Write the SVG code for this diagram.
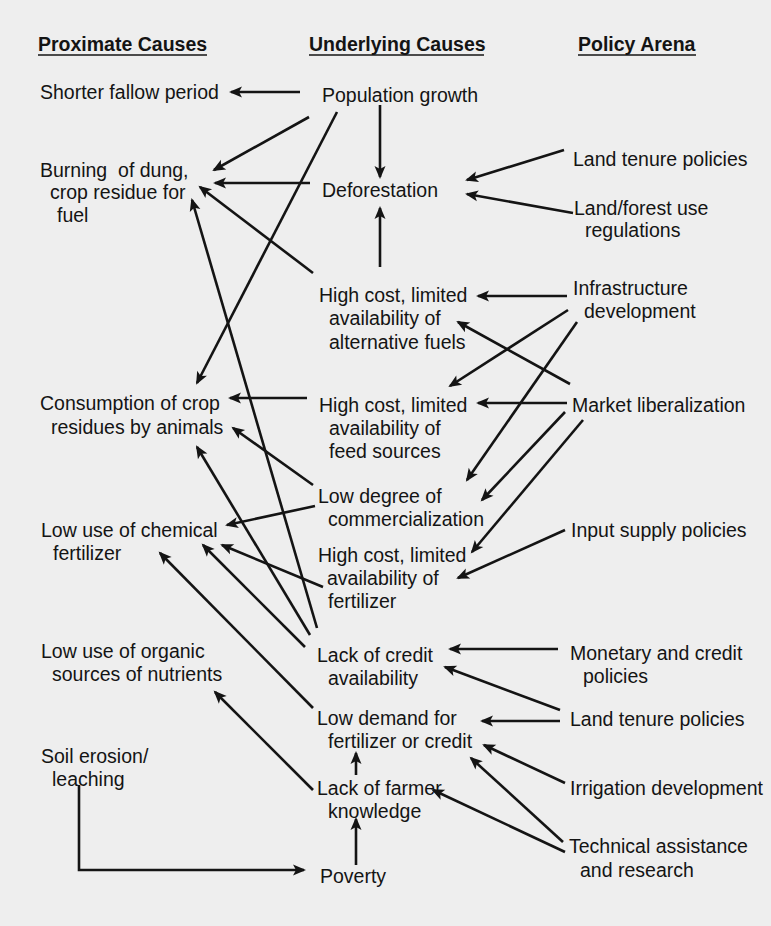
<svg xmlns="http://www.w3.org/2000/svg" width="771" height="926" viewBox="0 0 771 926">
<style>
text{font-family:"Liberation Sans",Arial,sans-serif;font-size:19.5px;fill:#141414;white-space:pre}
.h{font-weight:bold}
.ul{stroke:#141414;stroke-width:1.6}
.c line,.c polyline{stroke:#141414;stroke-width:2.6;fill:none;marker-end:url(#ah)}
</style>
<defs>
<marker id="ah" viewBox="-12 -6 15 12" refX="0" refY="0" markerWidth="15" markerHeight="12" markerUnits="userSpaceOnUse" orient="auto">
<path d="M2,0 L-11,-5.5 L-8,0 L-11,5.5 Z" fill="#141414"/>
</marker>
</defs>
<rect width="771" height="926" fill="#eeeeee"/>
<g id="headers">
<text class="h" x="38" y="51">Proximate Causes</text>
<line class="ul" x1="38" y1="55" x2="207" y2="55"/>
<text class="h" x="309" y="51">Underlying Causes</text>
<line class="ul" x1="309" y1="55" x2="484" y2="55"/>
<text class="h" x="578" y="51">Policy Arena</text>
<line class="ul" x1="578" y1="55" x2="696" y2="55"/>
</g>
<g id="p_shorter"><text x="40" y="99">Shorter fallow period</text></g>
<g id="p_burning"><text x="40" y="177" xml:space="preserve">Burning  of dung,</text><text x="50" y="199">crop residue for</text><text x="57" y="222">fuel</text></g>
<g id="p_consumption"><text x="40" y="410">Consumption of crop</text><text x="51" y="434">residues by animals</text></g>
<g id="p_chemical"><text x="41" y="537">Low use of chemical</text><text x="53" y="560">fertilizer</text></g>
<g id="p_organic"><text x="41" y="658">Low use of organic</text><text x="52" y="681">sources of nutrients</text></g>
<g id="p_erosion"><text x="41" y="763">Soil erosion/</text><text x="52" y="786">leaching</text></g>
<g id="u_population"><text x="322" y="102">Population growth</text></g>
<g id="u_deforestation"><text x="322" y="197">Deforestation</text></g>
<g id="u_altfuels"><text x="319" y="302">High cost, limited</text><text x="329" y="325">availability of</text><text x="329" y="349">alternative fuels</text></g>
<g id="u_feed"><text x="319" y="412">High cost, limited</text><text x="329" y="435">availability of</text><text x="329" y="458">feed sources</text></g>
<g id="u_commercial"><text x="318" y="503">Low degree of</text><text x="328" y="526">commercialization</text></g>
<g id="u_fertilizer"><text x="318" y="562">High cost, limited</text><text x="327" y="585">availability of</text><text x="328" y="608">fertilizer</text></g>
<g id="u_credit"><text x="317" y="662">Lack of credit</text><text x="328" y="685">availability</text></g>
<g id="u_demand"><text x="317" y="725">Low demand for</text><text x="328" y="748">fertilizer or credit</text></g>
<g id="u_knowledge"><text x="317" y="795">Lack of farmer</text><text x="328" y="818">knowledge</text></g>
<g id="u_poverty"><text x="320" y="883">Poverty</text></g>
<g id="r_landtenure1"><text x="573" y="166">Land tenure policies</text></g>
<g id="r_landforest"><text x="574" y="215">Land/forest use</text><text x="585" y="237">regulations</text></g>
<g id="r_infrastructure"><text x="573" y="295">Infrastructure</text><text x="584" y="318">development</text></g>
<g id="r_market"><text x="572" y="412">Market liberalization</text></g>
<g id="r_input"><text x="571" y="537">Input supply policies</text></g>
<g id="r_monetary"><text x="570" y="660">Monetary and credit</text><text x="583" y="683">policies</text></g>
<g id="r_landtenure2"><text x="570" y="726">Land tenure policies</text></g>
<g id="r_irrigation"><text x="570" y="795">Irrigation development</text></g>
<g id="r_technical"><text x="569" y="853">Technical assistance</text><text x="580" y="877">and research</text></g>
<g id="connectors" class="c">
<line x1="300" y1="92" x2="231" y2="92"/>
<line x1="380" y1="105" x2="380" y2="177"/>
<line x1="309" y1="117" x2="214" y2="170"/>
<line x1="337" y1="112" x2="197" y2="383"/>
<line x1="310" y1="183" x2="215" y2="183"/>
<line x1="564" y1="150" x2="467" y2="180"/>
<line x1="573" y1="213" x2="467" y2="194"/>
<line x1="313" y1="273" x2="200" y2="187"/>
<line x1="380" y1="267" x2="380" y2="208"/>
<line x1="567" y1="296" x2="478" y2="296"/>
<line x1="568" y1="310" x2="450" y2="386"/>
<line x1="577" y1="322" x2="467" y2="480"/>
<line x1="570" y1="384" x2="458" y2="322"/>
<line x1="567" y1="403" x2="478" y2="403"/>
<line x1="565" y1="412" x2="482" y2="500"/>
<line x1="583" y1="420" x2="472" y2="552"/>
<line x1="565" y1="530" x2="458" y2="578"/>
<line x1="307" y1="398" x2="230" y2="398"/>
<line x1="313" y1="485" x2="233" y2="428"/>
<line x1="315" y1="506" x2="227" y2="525"/>
<line x1="323" y1="587" x2="222" y2="545"/>
<line x1="317" y1="628" x2="192" y2="200"/>
<line x1="310" y1="635" x2="197" y2="447"/>
<line x1="305" y1="647" x2="203" y2="545"/>
<line x1="313" y1="708" x2="160" y2="553"/>
<line x1="558" y1="649" x2="450" y2="649"/>
<line x1="560" y1="710" x2="445" y2="667"/>
<line x1="560" y1="721" x2="482" y2="721"/>
<line x1="565" y1="783" x2="484" y2="745"/>
<line x1="563" y1="842" x2="471" y2="758"/>
<line x1="565" y1="852" x2="433" y2="790"/>
<line x1="313" y1="790" x2="215" y2="692"/>
<line x1="356" y1="775" x2="356" y2="753"/>
<line x1="356" y1="865" x2="356" y2="819"/>
<polyline points="79,785 79,870 304,870"/>
</g>
</svg>
